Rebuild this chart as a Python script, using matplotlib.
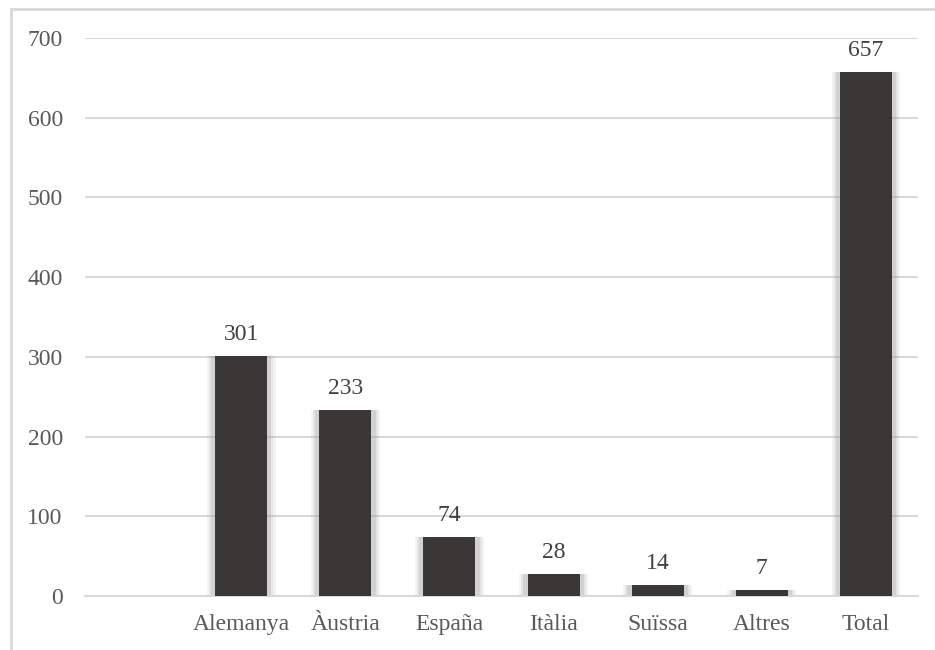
import numpy as np
import matplotlib
matplotlib.use('Agg')
import matplotlib.pyplot as plt
from matplotlib.patches import Rectangle

# Dades
paisos = ['', 'Alemanya', 'Àustria', 'España', 'Itàlia', 'Suïssa', 'Altres', 'Total']
valors = [None, 301, 233, 74, 28, 14, 7, 657]
yticks = [0, 100, 200, 300, 400, 500, 600, 700]

plt.rcParams['font.family'] = ['Liberation Serif', 'DejaVu Serif']

fig = plt.figure(figsize=(9.35, 6.5), dpi=100)
ax = fig.add_axes([85 / 935, 1 - 596 / 650, (918 - 85) / 935, (596 - 38) / 650])

x = np.arange(len(paisos))
idx = [i for i, v in enumerate(valors) if v is not None]
xs = x[idx]
vs = np.array([valors[i] for i in idx])

# ombra suau al voltant de cada barra
for w, a in [(0.66, 0.08), (0.62, 0.12), (0.58, 0.18)]:
    ax.bar(xs, vs + 6, width=w, bottom=-6, color='#7f7f7f', alpha=a,
           linewidth=0, zorder=2)
ax.bar(xs, vs, width=0.5, color='#3a3836', linewidth=0, zorder=3)

for xi, v in zip(xs, vs):
    ax.annotate(str(v), (xi, v), xytext=(0, 8), textcoords='offset points',
                ha='center', va='bottom', fontsize=17, color='#404040')

ax.set_xlim(-0.5, len(paisos) - 0.5)
ax.set_ylim(0, 700)
ax.set_yticks(yticks)
ax.set_xticks(x)
ax.set_xticklabels(paisos)
ax.tick_params(axis='y', length=0, pad=16, labelsize=17, labelcolor='#595959')
ax.tick_params(axis='x', length=0, pad=13, labelsize=17, labelcolor='#595959')
ax.grid(axis='y', color='#d9d9d9', linewidth=1.5, zorder=0)
ax.set_axisbelow(True)
for s in ['top', 'right', 'left']:
    ax.spines[s].set_visible(False)
ax.spines['bottom'].set_color('#d9d9d9')
ax.spines['bottom'].set_linewidth(1.5)

# marc del gràfic
fig.patches.append(Rectangle((11 / 935, -0.1), 1.2, 1.1 - 9 / 650,
                             transform=fig.transFigure, fill=False,
                             edgecolor='#d9d9d9', linewidth=2))

fig.savefig('out.png', dpi=100)
